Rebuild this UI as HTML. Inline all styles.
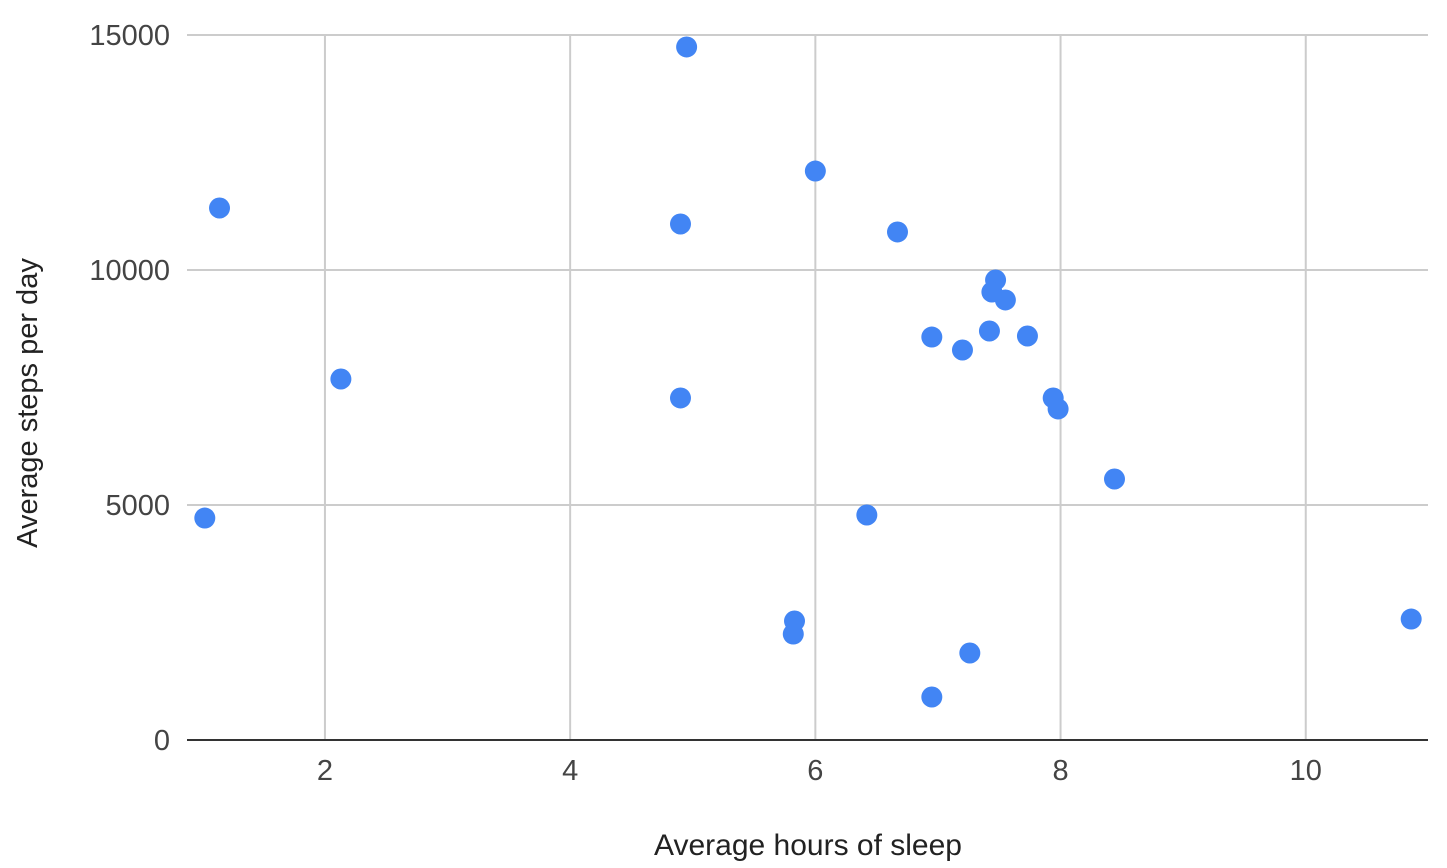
<!DOCTYPE html>
<html><head><meta charset="utf-8"><style>
body{margin:0;background:#fff;}
svg{display:block;font-family:"Liberation Sans",Arial,sans-serif;}
</style></head><body>
<svg id="chart" width="1447" height="868" viewBox="0 0 1447 868">
<g id="grid"></g>
<g id="axes"></g>
<g id="points"></g>
<text x="808" y="855" text-anchor="middle" font-size="30" fill="#222">Average hours of sleep</text>
<text transform="translate(37,403) rotate(-90)" text-anchor="middle" font-size="29" fill="#222">Average steps per day</text>
</svg>
<script>
const sleepHours=[1.02,1.14,2.13,4.95,4.90,4.90,6.00,6.67,6.42,5.83,5.82,6.95,7.20,7.42,7.47,7.44,7.55,7.73,7.94,7.98,8.44,7.26,6.95,10.86];
const stepsPerDay=[4723,11319,7681,14745,10979,7277,12106,10809,4787,2532,2255,8574,8298,8702,9787,9532,9362,8596,7277,7043,5553,1851,915,2574];
const xTicks=[2,4,6,8,10];
const yTicks=[0,5000,10000,15000];
const NS='http://www.w3.org/2000/svg';
const L=187,R=1428;
const xs=v=>79.75+v*122.6;
const ys=v=>740-v*0.047;
function mk(t,a,p){const e=document.createElementNS(NS,t);for(const k in a)e.setAttribute(k,a[k]);p.appendChild(e);return e;}
const grid=document.getElementById('grid'),axes=document.getElementById('axes'),pts=document.getElementById('points');
xTicks.forEach(v=>{
 const l=mk('line',{x1:xs(v),x2:xs(v),y1:35,y2:740,stroke:'#ccc','stroke-width':2},grid);
 
 
 const t=mk('text',{x:xs(v),y:780,'text-anchor':'middle','font-size':29,fill:'#444'},axes);
 t.textContent=v;
 
 
});
yTicks.forEach(v=>{
 if(v>0){const l=mk('line',{x1:L,x2:R,y1:ys(v),y2:ys(v),stroke:'#ccc','stroke-width':2},grid);
 
 }
 const t=mk('text',{x:170,y:ys(v)+10,'text-anchor':'end','font-size':29,fill:'#444'},axes);
 t.textContent=v;
 
 
});
const base=mk('line',{x1:L,x2:R,y1:740,y2:740,stroke:'#333','stroke-width':2},axes);


sleepHours.forEach((h,i)=>{
 const c=mk('circle',{cx:xs(h),cy:ys(stepsPerDay[i]),r:10.5,fill:'#4285f4'},pts);
 
 
});
</script>
</body></html>
